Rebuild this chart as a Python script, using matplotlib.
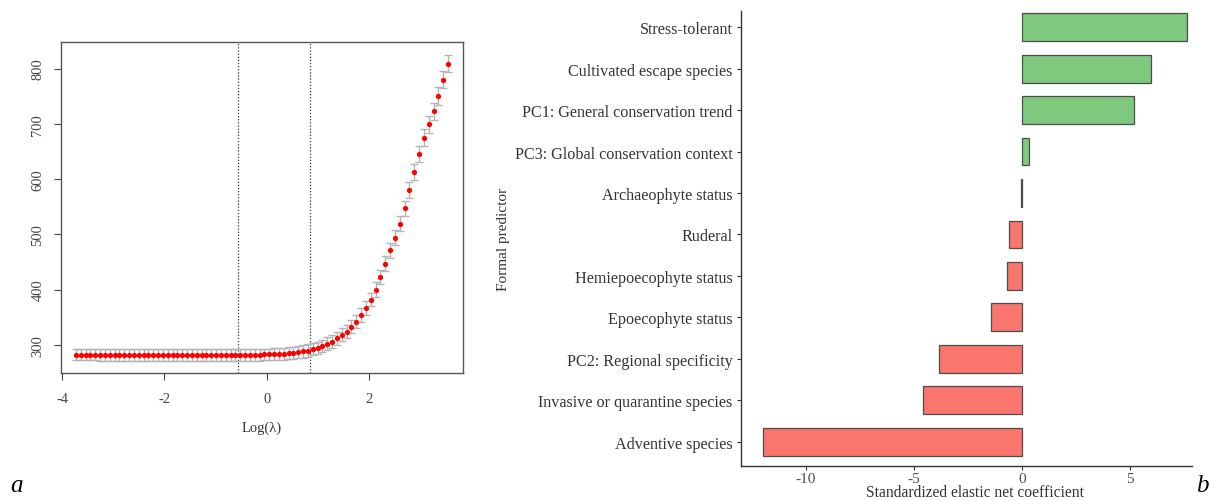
import numpy as np
import matplotlib
matplotlib.use("Agg")
import matplotlib.pyplot as plt

plt.rcParams['font.family'] = ['Liberation Serif', 'DejaVu Serif']

# ---------------- Panel a data (cv.glmnet curve) ----------------
loglam_start, loglam_end, n_lambda = -3.73, 3.54, 78
cv_mean = [
    282.3, 282.3, 282.2, 282.2, 282.2, 282.1, 282.1, 282.0, 282.0, 282.0,
    281.9, 281.9, 281.8, 281.8, 281.8, 281.7, 281.7, 281.6, 281.6, 281.5,
    281.5, 281.5, 281.4, 281.4, 281.3, 281.3, 281.3, 281.2, 281.2, 281.2,
    281.3, 281.4, 281.5, 281.6, 281.7, 281.8, 281.9, 282.0,
    282.0, 282.5, 282.5, 283.0, 283.5, 284.0, 284.5, 285.5, 286.5, 288.0,
    289.5, 292.0, 294.0, 298.0, 302.0, 306.0, 312.0, 318.0, 324.0, 333.0,
    342.0, 354.0, 367.0, 382.0, 400.0, 423.0, 447.0, 471.0, 494.0, 519.0,
    547.0, 580.0, 613.0, 645.0, 675.0, 699.0, 723.0, 750.0, 780.0, 809.0,
]
cv_se = [
    10.5, 10.5, 10.5, 10.5, 10.5, 10.5, 10.5, 10.5, 10.5, 10.5,
    10.5, 10.5, 10.5, 10.5, 10.5, 10.5, 10.5, 10.5, 10.5, 10.5,
    10.5, 10.5, 10.5, 10.5, 10.5, 10.5, 10.5, 10.5, 10.5, 10.5,
    10.5, 10.5, 10.5, 10.5, 10.5, 10.5, 10.6, 10.6,
    10.6, 10.6, 10.7, 10.7, 10.8, 10.8, 10.9, 11.0, 11.0, 11.1,
    11.2, 11.3, 11.4, 11.5, 11.6, 11.7, 11.8, 11.9, 12.0, 12.1,
    12.2, 12.3, 12.4, 12.6, 12.8, 13.0, 13.2, 13.4, 13.6, 13.8,
    14.0, 14.3, 14.6, 14.9, 15.1, 15.3, 15.5, 15.7, 15.9, 16.0,
]
lambda_min_log = -0.56
lambda_1se_log = 0.84
a_xticks = [-4, -2, 0, 2]
a_yticks = [300, 400, 500, 600, 700, 800]

# ---------------- Panel b data (coefficients) ----------------
predictors = [
    "Adventive species",
    "Invasive or quarantine species",
    "PC2: Regional specificity",
    "Epoecophyte status",
    "Hemiepoecophyte status",
    "Ruderal",
    "Archaeophyte status",
    "PC3: Global conservation context",
    "PC1: General conservation trend",
    "Cultivated escape species",
    "Stress-tolerant",
]
coefficients = [-11.98, -4.57, -3.83, -1.44, -0.68, -0.59, -0.03, 0.32, 5.17, 5.96, 7.66]
b_xticks = [-10, -5, 0, 5]

fig = plt.figure(figsize=(12.12, 5.02), dpi=100)

# ---------------- Panel a ----------------
axa = fig.add_axes([61/1212, 1-374/502, (463-61)/1212, (374-43)/502])
loglam = np.linspace(loglam_start, loglam_end, n_lambda)
axa.errorbar(loglam, cv_mean, yerr=cv_se, fmt='none', ecolor='#b3b3b3',
             elinewidth=1.0, capsize=3.0, capthick=1.0, zorder=2)
axa.plot(loglam, cv_mean, 'o', color='#ff0000', markersize=3.8,
         markeredgewidth=0, zorder=3)
for v in (lambda_min_log, lambda_1se_log):
    axa.axvline(v, color='#333333', linestyle=(0, (1, 1.5)), linewidth=0.9, zorder=1)
axa.set_xlim(-4.02, 3.83)
axa.set_ylim(249, 848)
axa.set_xticks(a_xticks)
axa.set_yticks(a_yticks)
axa.set_xticklabels([str(t) for t in a_xticks], fontsize=10.5, color='#333333')
axa.set_yticklabels([str(t) for t in a_yticks], fontsize=10.5, rotation=90,
                    va='center', color='#333333')
axa.tick_params(direction='out', length=5, width=0.8, colors='#444444', pad=9)
axa.tick_params(axis='y', pad=7)
for s in axa.spines.values():
    s.set_color('#555555')
    s.set_linewidth(1.0)
axa.set_xlabel('Log(λ)', fontsize=10.5, color='#333333', labelpad=11)

# ---------------- Panel b ----------------
axb = fig.add_axes([741/1212, 1-467/502, (1192-741)/1212, (467-12)/502])
ypos = np.arange(len(predictors))
colors = ['#7fc97f' if c > 0 else '#f8766d' for c in coefficients]
axb.barh(ypos, coefficients, height=0.67, color=colors, edgecolor='#4d4d4d',
         linewidth=0.9, zorder=2)
axb.set_xlim(-13.0, 7.87)
axb.set_ylim(-0.585, 10.39)
axb.set_yticks(ypos)
axb.set_yticklabels(predictors, fontsize=11.6, color='#333333')
axb.set_xticks(b_xticks)
axb.set_xticklabels([str(t) for t in b_xticks], fontsize=11, color='#4d4d4d')
axb.tick_params(direction='out', length=3, width=0.8, colors='#333333', pad=3)
axb.tick_params(axis='x', labelcolor='#4d4d4d', pad=1)
axb.tick_params(axis='y', labelcolor='#333333')
axb.spines['top'].set_visible(False)
axb.spines['right'].set_visible(False)
for s in ('left', 'bottom'):
    axb.spines[s].set_color('#333333')
    axb.spines[s].set_linewidth(1.0)
axb.set_ylabel('Formal predictor', fontsize=11, color='#333333')
axb.yaxis.set_label_coords((510 - 741) / (1192 - 741), 0.5)

# x axis title (placed so it stays inside the canvas)
fig.text(975/1212, 1-501.5/502, 'Standardized elastic net coefficient', fontsize=11.2,
         color='#333333', ha='center', va='bottom')

# panel letters
fig.text(10/1212, 1-492/502, 'a', fontsize=18, style='italic', ha='left', va='baseline')
fig.text(1196/1212, 1-492/502, 'b', fontsize=18, style='italic', ha='left', va='baseline')

fig.savefig('out.png', dpi=100)
